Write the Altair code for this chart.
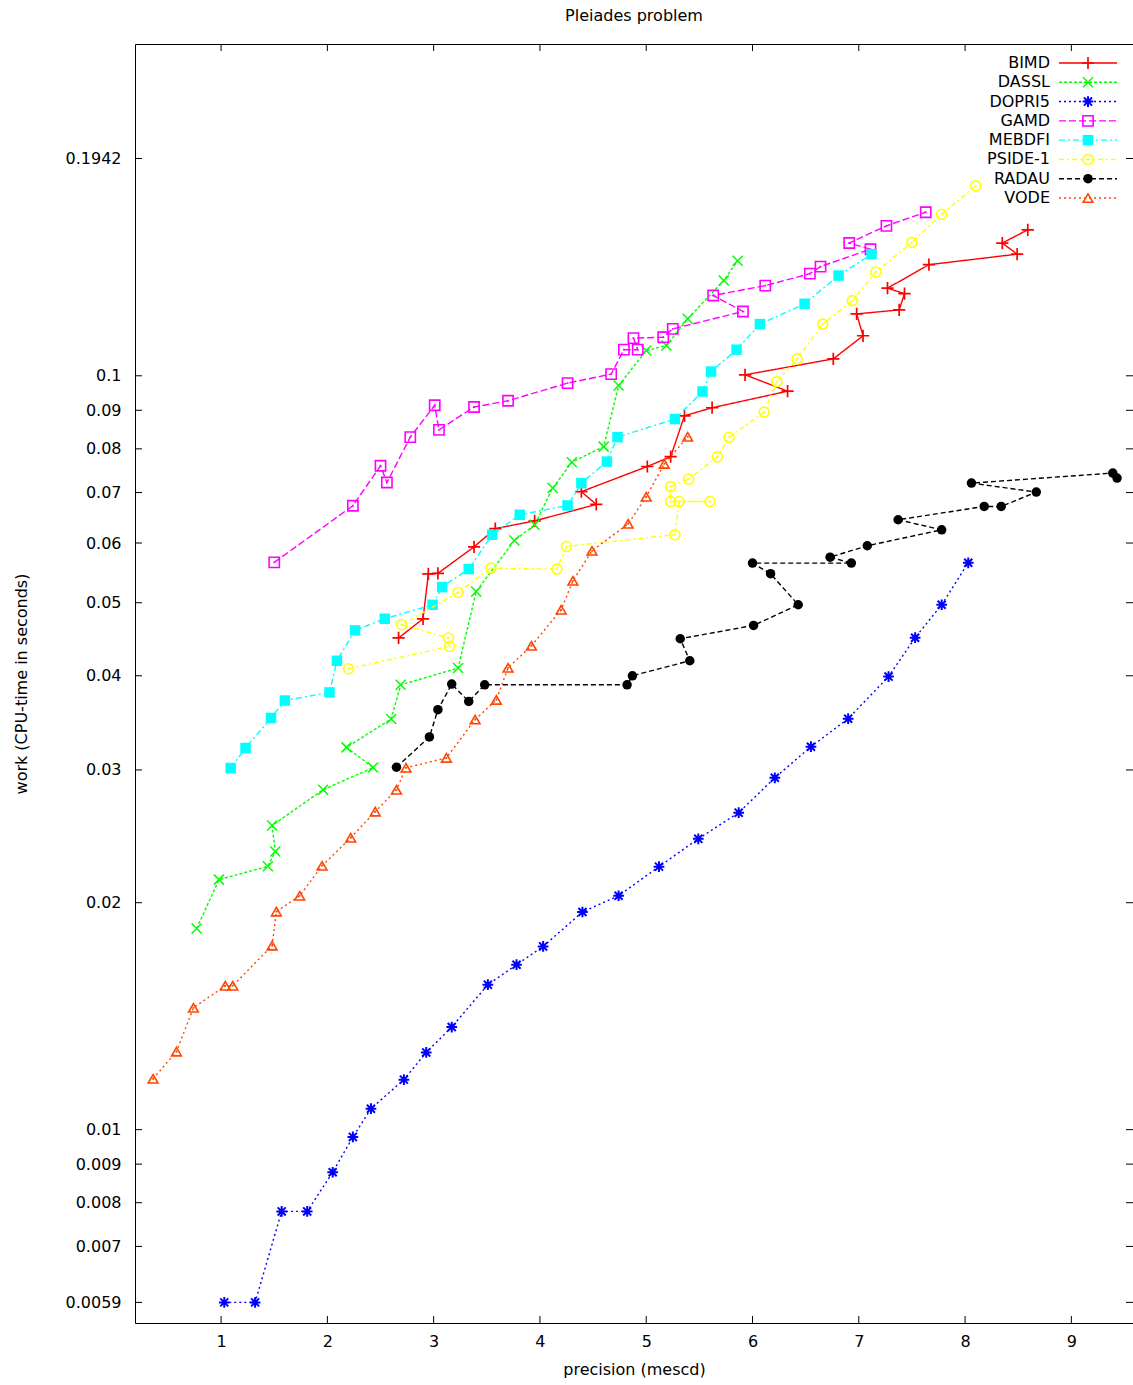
import altair as alt
import pandas as pd

# ---------------- data ----------------
names = ["BIMD", "DASSL", "DOPRI5", "GAMD", "MEBDFI", "PSIDE-1", "RADAU", "VODE"]

BIMD_x = [2.67, 2.90, 2.95, 3.04, 3.38, 3.58, 3.95, 4.53, 4.39, 5.01, 5.23, 5.36, 5.62,
          6.33, 5.93, 6.76, 7.04, 6.98, 7.38, 7.43, 7.27, 7.66, 8.49, 8.35, 8.59]
BIMD_y = [0.0449, 0.0476, 0.0546, 0.0547, 0.0593, 0.0627, 0.0642, 0.0675, 0.0702, 0.0758,
          0.0781, 0.0885, 0.0907, 0.0954, 0.1003, 0.1053, 0.1130, 0.1208, 0.1223, 0.1285,
          0.1307, 0.1404, 0.1450, 0.1500, 0.1562]

DASSL_x = [0.77, 0.98, 1.44, 1.51, 1.48, 1.96, 2.43, 2.18, 2.60, 2.69, 3.23, 3.40, 3.76,
           3.95, 4.12, 4.30, 4.60, 4.74, 5.00, 5.19, 5.39, 5.73, 5.86]
DASSL_y = [0.01848, 0.02146, 0.02235, 0.02339, 0.02532, 0.02824, 0.03022, 0.03214, 0.03505,
           0.03891, 0.04095, 0.05175, 0.06046, 0.06343, 0.07097, 0.07680, 0.08055, 0.09707,
           0.1080, 0.1097, 0.1190, 0.1338, 0.1421]

DOPRI5_x = [1.03, 1.32, 1.57, 1.81, 2.05, 2.24, 2.41, 2.72, 2.93, 3.17, 3.51, 3.78, 4.03,
            4.40, 4.74, 5.12, 5.49, 5.87, 6.21, 6.55, 6.90, 7.28, 7.53, 7.78, 8.03]
DOPRI5_y = [0.00590, 0.00590, 0.00779, 0.00779, 0.00878, 0.00978, 0.01066, 0.01165, 0.01266,
            0.01368, 0.01557, 0.01655, 0.01750, 0.01944, 0.02043, 0.02233, 0.02431, 0.02633,
            0.02929, 0.03221, 0.03509, 0.03990, 0.04493, 0.04969, 0.05649]

GAMD_x = [1.50, 2.24, 2.50, 2.56, 2.78, 3.01, 3.05, 3.38, 3.70, 4.26, 4.67, 4.79, 4.92,
          4.88, 5.16, 5.25, 5.91, 5.63, 6.12, 6.54, 6.64, 7.11, 6.91, 7.26, 7.63]
GAMD_y = [0.05655, 0.06724, 0.07597, 0.07218, 0.08292, 0.09139, 0.08479, 0.09090, 0.09266,
          0.09779, 0.1005, 0.1083, 0.1083, 0.1122, 0.1125, 0.1154, 0.1217, 0.1278, 0.1317,
          0.1366, 0.1396, 0.1472, 0.1500, 0.1581, 0.1648]

MEBDFI_x = [1.09, 1.23, 1.47, 1.60, 2.02, 2.09, 2.26, 2.54, 2.99, 3.08, 3.33, 3.55, 3.81,
            4.26, 4.39, 4.63, 4.73, 5.27, 5.53, 5.61, 5.85, 6.07, 6.49, 6.81, 7.12]
MEBDFI_y = [0.03018, 0.03208, 0.03516, 0.03709, 0.03802, 0.04188, 0.04595, 0.04761, 0.04969,
            0.05245, 0.05541, 0.06154, 0.06540, 0.06730, 0.07205, 0.07695, 0.08292, 0.08762,
            0.09532, 0.1013, 0.1083, 0.1171, 0.1246, 0.1358, 0.1450]

PSIDE_x = [2.20, 3.15, 3.14, 2.70, 3.23, 3.54, 4.16, 4.25, 5.27, 5.31, 5.60, 5.23, 5.23,
           5.40, 5.67, 5.78, 6.11, 6.23, 6.42, 6.66, 6.94, 7.16, 7.50, 7.78, 8.10]
PSIDE_y = [0.04087, 0.04375, 0.04489, 0.04675, 0.05159, 0.05558, 0.05541, 0.05937, 0.06154,
           0.06810, 0.06810, 0.06810, 0.07129, 0.07295, 0.07807, 0.08287, 0.08951, 0.09826,
           0.1053, 0.1171, 0.1258, 0.1373, 0.1503, 0.1638, 0.1786]

RADAU_x = [2.65, 2.96, 3.04, 3.17, 3.33, 3.48, 4.82, 4.87, 5.41, 5.32, 6.01, 6.43, 6.17,
           6.00, 6.93, 6.73, 7.08, 7.78, 7.37, 8.18, 8.34, 8.67, 8.06, 9.39, 9.43]
RADAU_y = [0.03025, 0.03318, 0.03606, 0.03900, 0.03698, 0.03891, 0.03891, 0.04000, 0.04188,
           0.04479, 0.04665, 0.04969, 0.05463, 0.05643, 0.05643, 0.05747, 0.05950, 0.06247,
           0.06442, 0.06709, 0.06709, 0.07010, 0.07205, 0.07430, 0.07317]

VODE_x = [0.36, 0.58, 0.74, 1.04, 1.11, 1.48, 1.52, 1.74, 1.95, 2.22, 2.45, 2.65, 2.74,
          3.12, 3.39, 3.59, 3.70, 3.92, 4.20, 4.31, 4.49, 4.83, 5.00, 5.17, 5.39]
VODE_y = [0.01168, 0.01269, 0.01451, 0.01552, 0.01552, 0.01754, 0.01946, 0.02043, 0.02239,
          0.02439, 0.02641, 0.02824, 0.03020, 0.03113, 0.03499, 0.03716, 0.04099, 0.04384,
          0.04894, 0.05346, 0.05859, 0.06362, 0.06910, 0.07641, 0.08300]

x_ticks = [1, 2, 3, 4, 5, 6, 7, 8, 9]
y_ticks = [0.0059, 0.007, 0.008, 0.009, 0.01, 0.02, 0.03, 0.04, 0.05, 0.06, 0.07, 0.08,
           0.09, 0.1, 0.1942]

series = {
    "BIMD": (BIMD_x, BIMD_y),
    "DASSL": (DASSL_x, DASSL_y),
    "DOPRI5": (DOPRI5_x, DOPRI5_y),
    "GAMD": (GAMD_x, GAMD_y),
    "MEBDFI": (MEBDFI_x, MEBDFI_y),
    "PSIDE-1": (PSIDE_x, PSIDE_y),
    "RADAU": (RADAU_x, RADAU_y),
    "VODE": (VODE_x, VODE_y),
}

# ---------------- styles ----------------
PLUS = "M-1,0L1,0M0,-1L0,1"
CROSS = "M-1,-1L1,1M-1,1L1,-1"
STAR = "M-1,0L1,0M0,-1L0,1M-0.75,-0.75L0.75,0.75M-0.75,0.75L0.75,-0.75"

styles = {
    "BIMD":    dict(color="#ff0000", dash=[1, 0],       shape=PLUS,          filled=False, size=150, sw=1.7, dot=False),
    "DASSL":   dict(color="#00ff00", dash=[3, 2],       shape=CROSS,         filled=False, size=100, sw=1.5, dot=False),
    "DOPRI5":  dict(color="#0000ff", dash=[2, 3],       shape=STAR,          filled=False, size=115, sw=2.0, dot=False),
    "GAMD":    dict(color="#ff00ff", dash=[7, 3],       shape="square",      filled=False, size=105, sw=1.6, dot=True),
    "MEBDFI":  dict(color="#00ffff", dash=[6, 3, 2, 3], shape="square",      filled=True,  size=110, sw=1.5, dot=False),
    "PSIDE-1": dict(color="#ffff00", dash=[5, 3, 2, 3], shape="circle",      filled=False, size=100, sw=1.6, dot=True),
    "RADAU":   dict(color="#000000", dash=[5, 3],       shape="circle",      filled=True,  size=90,  sw=1.5, dot=False),
    "VODE":    dict(color="#ff4500", dash=[2, 3],       shape="triangle-up", filled=False, size=95,  sw=1.6, dot=True),
}

FONT = "DejaVu Sans"
W, H = 998, 1279

xscale = alt.Scale(type="linear", domain=[0.19, 9.58], nice=False, zero=False)
yscale = alt.Scale(type="log", domain=[0.00554, 0.2755], nice=False)

xaxis = alt.Axis(values=x_ticks, format="d", title="precision (mescd)", domain=False,
                 ticks=False, tickSize=0, grid=False, labelPadding=10, titlePadding=12,
                 labelFlush=False, labelOverlap=False)
yaxis = alt.Axis(values=y_ticks, format="~g", title="work (CPU-time in seconds)",
                 domain=False, ticks=False, tickSize=0, grid=False, labelPadding=14,
                 titlePadding=36, labelFlush=False, labelOverlap=False)


def X(field):
    return alt.X(field, type="quantitative", scale=xscale, axis=xaxis)


def Y(field):
    return alt.Y(field, type="quantitative", scale=yscale, axis=yaxis)


# inward ticks (gnuplot style), mirrored on all sides
ytick_df = pd.DataFrame({"work": y_ticks})
xtick_df = pd.DataFrame({"precision": x_ticks})
tick_layers = [
    alt.Chart(ytick_df).mark_rule(color="black", strokeWidth=1).encode(
        y=Y("work"), x=alt.value(0), x2=alt.value(7)),
    alt.Chart(ytick_df).mark_rule(color="black", strokeWidth=1).encode(
        y=Y("work"), x=alt.value(W - 7), x2=alt.value(W)),
    alt.Chart(xtick_df).mark_rule(color="black", strokeWidth=1).encode(
        x=X("precision"), y=alt.value(H - 7), y2=alt.value(H)),
    alt.Chart(xtick_df).mark_rule(color="black", strokeWidth=1).encode(
        x=X("precision"), y=alt.value(0), y2=alt.value(7)),
]

series_layers = []
for name in names:
    xs, ys = series[name]
    st = styles[name]
    df = pd.DataFrame({"precision": xs, "work": ys, "i": list(range(len(xs)))})
    base = alt.Chart(df)
    series_layers.append(
        base.mark_line(color=st["color"], strokeDash=st["dash"], strokeWidth=1.4).encode(
            x=X("precision"), y=Y("work"), order=alt.Order("i:Q")))
    series_layers.append(
        base.mark_point(shape=st["shape"], filled=st["filled"], size=st["size"],
                        color=st["color"], strokeWidth=st["sw"], opacity=1).encode(
            x=X("precision"), y=Y("work")))
    if st["dot"]:
        series_layers.append(
            base.mark_point(shape="square", filled=True, size=3, color=st["color"],
                            opacity=1).encode(x=X("precision"), y=Y("work")))

data_layer = alt.layer(*tick_layers, *series_layers)

# legend drawn inside the plot, gnuplot style (label left of sample)
legend_df = pd.DataFrame({"solver": names})
leg_y = alt.Y("solver:N", scale=alt.Scale(type="point", domain=names, range=[19, 154],
                                          padding=0), axis=None)
legend_layers = [
    alt.Chart(legend_df).mark_text(align="right", baseline="middle", font=FONT,
                                   fontSize=16, color="black").encode(
        y=leg_y, x=alt.value(915), text="solver:N")
]
for name in names:
    st = styles[name]
    sub = alt.Chart(legend_df).transform_filter(alt.datum.solver == name)
    legend_layers.append(
        sub.mark_rule(color=st["color"], strokeDash=st["dash"], strokeWidth=1.4).encode(
            y=leg_y, x=alt.value(924), x2=alt.value(982)))
    legend_layers.append(
        sub.mark_point(shape=st["shape"], filled=st["filled"], size=st["size"],
                       color=st["color"], strokeWidth=st["sw"], opacity=1).encode(
            y=leg_y, x=alt.value(953)))
legend_layer = alt.layer(*legend_layers)

chart = (
    alt.layer(data_layer, legend_layer)
    .resolve_scale(y="independent")
    .properties(
        width=W,
        height=H,
        title=alt.TitleParams("Pleiades problem", anchor="middle", offset=20),
        autosize=alt.AutoSizeParams(type="none"),
        padding={"left": 135, "top": 44, "right": 0, "bottom": 62},
        background="white",
    )
    .configure_view(stroke="black", strokeWidth=1)
    .configure_axis(labelFont=FONT, titleFont=FONT, labelFontSize=16, titleFontSize=16,
                    labelColor="black", titleColor="black", titleFontWeight="normal")
    .configure_title(font=FONT, fontSize=16, fontWeight="normal", color="black")
)

chart.save("out.html", embed_options={"renderer": "svg", "actions": False})
